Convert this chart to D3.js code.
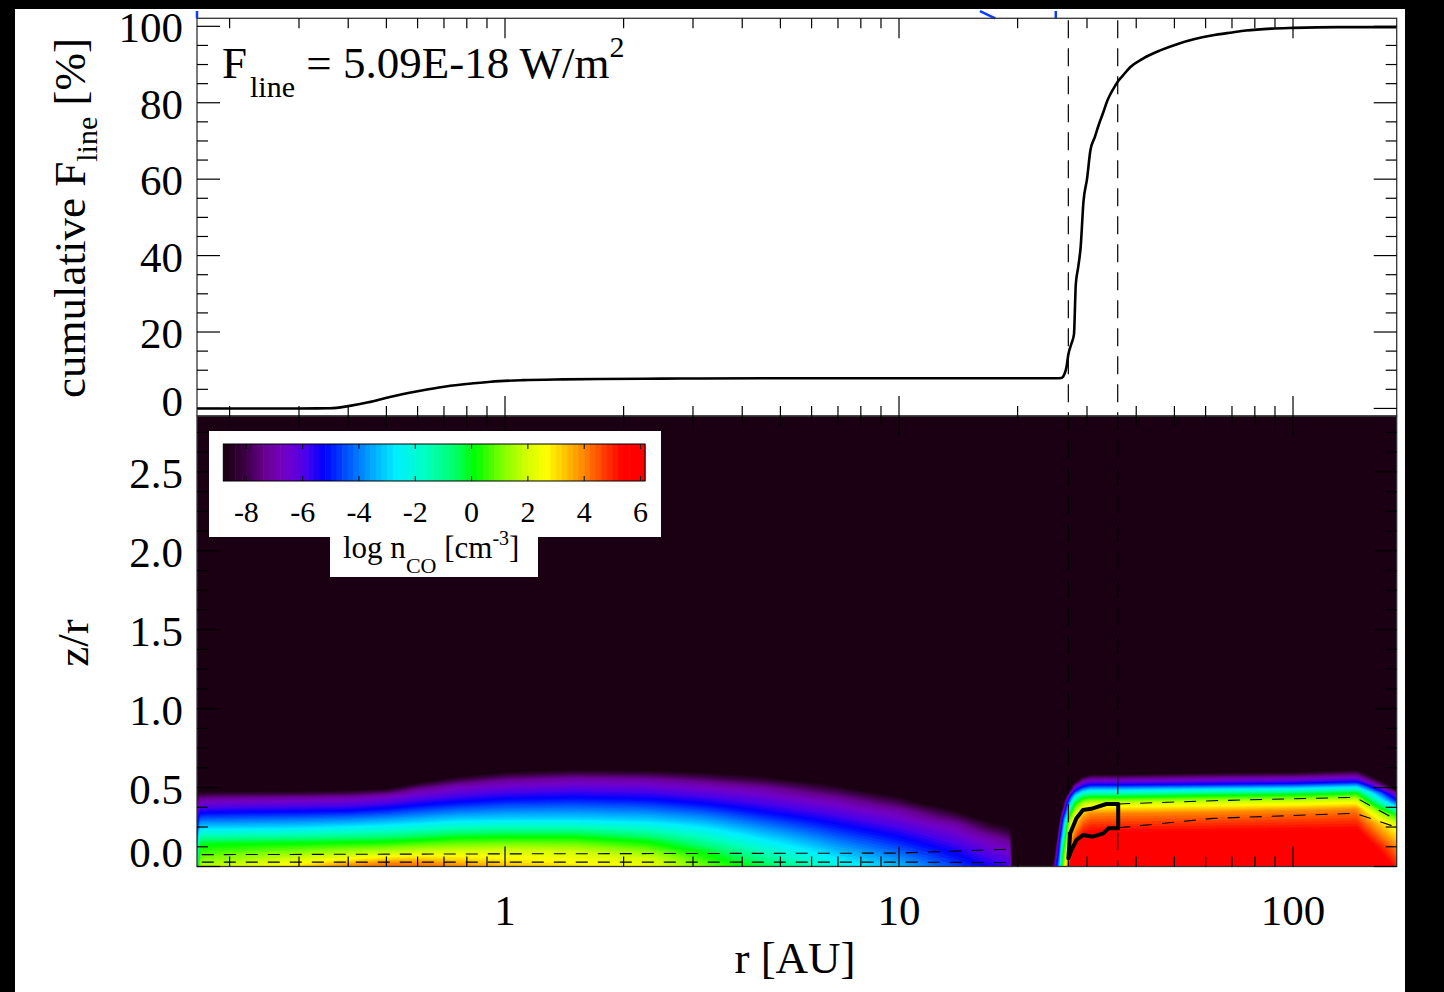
<!DOCTYPE html>
<html><head><meta charset="utf-8">
<script src="https://cdn.jsdelivr.net/npm/d3@7"></script>
<style>body{margin:0;background:#000;overflow:hidden}svg{display:block}text{font-family:"Liberation Serif","Times New Roman",serif;fill:#000}</style>
</head><body><svg id="chart" width="1444" height="992"></svg>
<script>
// ---------------- DATA ----------------
// top panel: cumulative line flux [%] vs r [AU]
const cumR   = [0.1653,0.2,0.25,0.3,0.36,0.40,0.45,0.51,0.6,0.68,0.8,0.92,1.11,1.4,1.74,2.5,3.1,5,10,20,25.0,25.8,26.3,26.6,26.9,27.4,27.8,28.1,28.5,28.9,29.4,30.0,30.6,31.4,32.2,33.0,33.8,34.5,35.2,36.0,37.0,38.6,41.5,46.0,51.0,56,62.1,70,76.0,88,100,130,183.3];
const cumPct = [0,0,0,0,0.05,0.6,1.6,3.0,4.5,5.5,6.4,7.0,7.4,7.6,7.7,7.8,7.85,7.9,7.9,7.9,7.9,7.95,9.0,10.7,14.1,17,19.4,32.5,37,42.1,54.3,60,67.5,71,74.5,77.5,80.6,82.5,84.1,85.7,87.1,89.3,91.5,93.7,95.4,96.6,97.6,98.4,98.9,99.4,99.6,99.8,99.8];
// blue trace just above the frame (null = break)
const blueR = [0.1653,0.1653,null,16.05,17.55,null,25.0,25.0];
const blueV = [102.1,104,null,104,102.1,null,102.1,104];
// radii of the dashed vertical lines
const dashedR = [26.9, 35.9];
// bottom panel: log n_CO field, described per radial node
const rNodes   = [0.1653,0.168,0.2,0.3,0.4,0.5,0.6,0.75,1.0,1.5,2.3,3.2,4.5,7,10,14,17,19.1,19.4,24.4,24.64,25.14,25.63,26.1,26.74,27.16,28,29.3,30.6,37,60,100,145,183.3];
const midplane = [-4.5,1.6,2.0,3.0,4.0,4.3,4.3,4.0,3.4,2.9,2.4,1.0,-0.3,-2.2,-3.3,-4.6,-5.4,-5.8,-9.5,-9.5,-8,-5.3,-3,1,3.5,5.5,7,8,8,8,8,8,8,5];
const levelValues = [4, 2, 0, -3, -5.3, -7, -9];
const zLev4  = [null,null,null,null,null,0.02,0.02,null,null,null,null,null,null,null,null,null,null,null,null,null,null,null,null,null,null,0.1,0.22,0.30,0.33,0.335,0.34,0.35,0.36,0.12];
const zLev2  = [null,null,null,0.05,0.07,0.08,0.09,0.095,0.1,0.09,0.05,null,null,null,null,null,null,null,null,null,null,null,null,null,0.15,0.27,0.34,0.39,0.40,0.40,0.405,0.41,0.42,0.27];
const zLev0  = [null,0.14,0.145,0.15,0.155,0.16,0.17,0.185,0.19,0.19,0.16,0.09,null,null,null,null,null,null,null,null,null,null,null,0.08,0.26,0.33,0.40,0.435,0.44,0.44,0.45,0.455,0.465,0.33];
const zLevM3 = [null,0.245,0.245,0.25,0.26,0.27,0.28,0.295,0.30,0.30,0.29,0.26,0.19,0.07,null,null,null,null,null,null,null,null,null,0.2,0.33,0.39,0.45,0.475,0.484,0.484,0.49,0.495,0.505,0.38];
const zLevM5 = [0.1,0.34,0.345,0.35,0.355,0.37,0.39,0.41,0.43,0.44,0.43,0.40,0.35,0.27,0.19,0.08,null,null,null,null,null,null,0.17,0.31,0.40,0.44,0.48,0.505,0.516,0.516,0.52,0.525,0.535,0.42];
const zLevM7 = [0.35,0.42,0.425,0.43,0.435,0.45,0.48,0.51,0.535,0.55,0.545,0.52,0.49,0.42,0.35,0.26,0.18,0.14,null,null,null,0.1,0.25,0.35,0.43,0.465,0.51,0.54,0.55,0.55,0.555,0.56,0.57,0.46];
const zLevM9 = [0.47,0.485,0.485,0.485,0.49,0.50,0.54,0.58,0.61,0.625,0.62,0.61,0.585,0.53,0.46,0.37,0.30,0.27,null,null,0.02,0.18,0.31,0.39,0.46,0.49,0.54,0.575,0.59,0.59,0.60,0.605,0.62,0.49];
// thick emission-region contour
const emitR = [26.9,27.2,28.2,29.3,31.0,33.6,36.0,36.0,34.0,33.0,31.0,29.3,28.2,27.4];
const emitZ = [0.052,0.21,0.305,0.358,0.368,0.396,0.396,0.242,0.242,0.21,0.189,0.199,0.168,0.104];
// dashed contours
const dashUpR = [36.0,62.8,144,183.3];   const dashUpZ = [0.396,0.417,0.438,0.294];
const dashLoR = [36.0,62.8,144,183.3];   const dashLoZ = [0.245,0.305,0.337,0.248];
const dashInAR = [0.17,1,10,19.1];       const dashInAZ = [0.075,0.08,0.085,0.11];
const dashInBR = [0.17,1,10,19.1];       const dashInBZ = [0.028,0.028,0.028,0.025];
// ticks
const topYTicks = [0,20,40,60,80,100];
const botYTicks = [0,0.5,1,1.5,2,2.5];
const botYLabels = ["0.0","0.5","1.0","1.5","2.0","2.5"];
const xLabelTicks = [1,10,100];
const cbTicks = [-8,-6,-4,-2,0,2,4,6];
// colour table
const cmapValues = [-8.82,-8.1,-7.4,-6.7,-6.0,-5.33,-4.56,-3.73,-2.78,-1.72,-0.77,0.03,1.0,1.83,2.55,3.25,3.96,4.56,5.27,6.16];
const cmapColors = ["#1a0012","#3e0048","#6a0094","#7400c8","#4a00ea","#0000ff","#0050ff","#00a0ff","#00f0ff","#00ffc0","#00ff70","#00ff00","#80ff00","#d0ff00","#ffff00","#ffc000","#ff8000","#ff4000","#ff0000","#ff0000"];

// ---------------- SCALES ----------------
const X0 = 197, X1 = 1396.7, YT0 = 18.3, YMID = 416, YB = 866.5;
const x = d3.scaleLog().domain([0.1653, 183.3]).range([X0, X1]);
const yTop = d3.scaleLinear().domain([-1.98, 102.1]).range([YMID, YT0]);
const yBot = d3.scaleLinear().domain([0, 2.854]).range([YB, YMID]);
const color = d3.scaleLinear().domain(cmapValues).range(cmapColors).clamp(true);
const cbX = d3.scaleLinear().domain([-8.82, 6.16]).range([223.3, 645]);

const svg = d3.select("#chart");
svg.append("rect").attr("x",15).attr("y",9).attr("width",1390).attr("height",983).attr("fill","#fff");
const defs = svg.append("defs");
defs.append("clipPath").attr("id","clipBot").append("rect").attr("x",X0).attr("y",YMID).attr("width",X1-X0).attr("height",YB-YMID);
defs.append("clipPath").attr("id","clipTop").append("rect").attr("x",X0).attr("y",YT0).attr("width",X1-X0).attr("height",YMID-YT0);

// ---------------- BOTTOM PANEL FIELD ----------------
const gB = svg.append("g").attr("clip-path","url(#clipBot)");
gB.append("rect").attr("x",X0).attr("y",YMID).attr("width",X1-X0).attr("height",YB-YMID).attr("fill",cmapColors[0]);
const levelArrays = [zLev4,zLev2,zLev0,zLevM3,zLevM5,zLevM7,zLevM9];
function profile(k, z) {
  const pts = [[0, midplane[k]]];
  levelValues.forEach((L, li) => { const h = levelArrays[li][k]; if (h != null && L < midplane[k]) pts.push([h, L]); });
  if (pts.length === 1) return midplane[k];
  const last = pts[pts.length-1];
  if (z >= last[0]) return last[1] - (z - last[0]) * 30;
  for (let i = 0; i < pts.length-1; i++) {
    if (z >= pts[i][0] && z <= pts[i+1][0]) {
      const t = (z - pts[i][0]) / (pts[i+1][0] - pts[i][0] || 1);
      return pts[i][1] + t * (pts[i+1][1] - pts[i][1]);
    }
  }
  return last[1];
}
const nx = 800, ny = 130, zMaxGrid = 0.8;
const field = new Float64Array(nx*ny);
const lr = rNodes.map(Math.log);
for (let i = 0; i < nx; i++) {
  const px = X0 + (i+0.5)*(X1-X0)/nx;
  const r = x.invert(px), l = Math.log(r);
  let k = d3.bisectRight(lr, l) - 1; k = Math.max(0, Math.min(rNodes.length-2, k));
  const t = Math.max(0, Math.min(1, (l - lr[k])/(lr[k+1]-lr[k])));
  for (let j = 0; j < ny; j++) {
    const z = zMaxGrid*(1 - (j+0.5)/ny);
    field[i + j*nx] = (1-t)*profile(k, z) + t*profile(k+1, z);
  }
}
const thresholds = d3.range(-8.8, 6.2, 0.2);
const contours = d3.contours().size([nx, ny]).thresholds(thresholds)(field);
const sx = (X1-X0)/nx, oy = yBot(zMaxGrid), sy = (yBot(0)-yBot(zMaxGrid))/ny;
const proj = d3.geoTransform({point(px, py){ this.stream.point(X0 + px*sx, oy + py*sy); }});
const gpath = d3.geoPath(proj);
gB.append("g").selectAll("path").data(contours).join("path")
  .attr("d", gpath).attr("fill", d => color(d.value)).attr("stroke", d => color(d.value)).attr("stroke-width",0.6);

// dashed contours in bottom panel
const lineRZ = d3.line().x(d => x(d[0])).y(d => yBot(d[1]));
[[dashUpR,dashUpZ],[dashLoR,dashLoZ],[dashInAR,dashInAZ],[dashInBR,dashInBZ]].forEach(([rr,zz]) => {
  gB.append("path").attr("d", lineRZ(rr.map((r,i)=>[r,zz[i]]))).attr("fill","none")
    .attr("stroke","#000").attr("stroke-width",1.1).attr("stroke-dasharray","12,10");
});
// thick emission contour
gB.append("path").attr("d", d3.line().x(d=>x(d[0])).y(d=>yBot(d[1])).curve(d3.curveLinearClosed)(emitR.map((r,i)=>[r,emitZ[i]])))
  .attr("fill","none").attr("stroke","#000").attr("stroke-width",4).attr("stroke-linejoin","round");

// ---------------- TOP PANEL ----------------
const gT = svg.append("g").attr("clip-path","url(#clipTop)");
gT.append("path").attr("d", d3.line().x(d=>x(d[0])).y(d=>yTop(d[1])).curve(d3.curveMonotoneX)(cumR.map((r,i)=>[r,cumPct[i]])))
  .attr("fill","none").attr("stroke","#000").attr("stroke-width",2.6).attr("stroke-linejoin","round");
svg.append("path").attr("d", d3.line().defined(d=>d[0]!=null).x(d=>x(d[0])).y(d=>yTop(d[1]))(blueR.map((r,i)=>[r,blueV[i]])))
  .attr("fill","none").attr("stroke","#0a3cff").attr("stroke-width",2.5);

// dashed vertical lines through both panels
svg.append("g").selectAll("line").data(dashedR).join("line")
  .attr("x1",d=>x(d)).attr("x2",d=>x(d)).attr("y1",YT0+2).attr("y2",YB)
  .attr("stroke","#000").attr("stroke-width",1.2).attr("stroke-dasharray","18,10");

// ---------------- AXES / FRAMES ----------------
const ax = svg.append("g");
[[YT0,YMID],[YMID,YB]].forEach(([a,b]) => {
  ax.append("rect").attr("x",X0).attr("y",a).attr("width",X1-X0).attr("height",b-a)
    .attr("fill","none").attr("stroke","#333").attr("stroke-width",1.3);
});
const xt = x.ticks();
const isMajorLog = d => Math.abs(Math.log10(d) - Math.round(Math.log10(d))) < 1e-6;
function xTicks(yA, dir) {
  ax.append("g").selectAll("line").data(xt).join("line")
    .attr("x1",d=>x(d)).attr("x2",d=>x(d)).attr("y1",yA).attr("y2",d=>yA + dir*(isMajorLog(d)?20:10))
    .attr("stroke","#000").attr("stroke-width",1.2);
}
xTicks(YT0, 1); xTicks(YMID, -1); xTicks(YMID, 1); xTicks(YB, -1);
function yTicks(scale, vals, isMaj) {
  [[X0,1],[X1,-1]].forEach(([xa,dir]) => {
    ax.append("g").selectAll("line").data(vals).join("line")
      .attr("x1",xa).attr("x2",d=>xa + dir*(isMaj(d)?23:11)).attr("y1",d=>scale(d)).attr("y2",d=>scale(d))
      .attr("stroke","#000").attr("stroke-width",1.2);
  });
}
yTicks(yTop, d3.range(0,101,5), d => d % 20 === 0);
yTicks(yBot, d3.range(0,2.86,0.125), d => Math.abs(d/0.5 - Math.round(d/0.5)) < 1e-6);

// tick labels
const fs = 43;
svg.append("g").selectAll("text").data(topYTicks).join("text")
  .attr("x",183).attr("y",d=>Math.min(yTop(d)+16, YMID)).attr("text-anchor","end").attr("font-size",fs).text(d=>d);
svg.append("g").selectAll("text").data(botYTicks).join("text")
  .attr("x",183).attr("y",d=>Math.min(yBot(d)+16, YB)).attr("text-anchor","end").attr("font-size",fs).text((d,i)=>botYLabels[i]);
svg.append("g").selectAll("text").data(xLabelTicks).join("text")
  .attr("x",d=>x(d)).attr("y",925).attr("text-anchor","middle").attr("font-size",fs).text(d=>d);

// axis titles
svg.append("text").attr("x",795).attr("y",973).attr("text-anchor","middle").attr("font-size",45).text("r [AU]");
svg.append("text").attr("transform","translate(88,643) rotate(-90)").attr("text-anchor","middle").attr("font-size",45).text("z/r");
const yl = svg.append("text").attr("transform","translate(85,218) rotate(-90)").attr("text-anchor","middle").attr("font-size",45);
yl.append("tspan").text("cumulative F");
yl.append("tspan").attr("font-size",30).attr("dy",12).text("line");
yl.append("tspan").attr("dy",-12).text(" [%]");

// annotation
const an = svg.append("text").attr("x",222).attr("y",78).attr("font-size",45);
an.append("tspan").text("F");
an.append("tspan").attr("font-size",30).attr("dy",19).attr("dx",3).text("line");
an.append("tspan").attr("dy",-19).text(" = 5.09E-18 W/m");
an.append("tspan").attr("font-size",30).attr("dy",-21).text("2");

// ---------------- COLOUR BAR ----------------
const cb = svg.append("g");
cb.append("rect").attr("x",209).attr("y",431).attr("width",452).attr("height",106).attr("fill","#fff");
cb.append("rect").attr("x",330).attr("y",536).attr("width",208).attr("height",41).attr("fill","#fff");
const cbBands = [-8.82].concat(thresholds.filter(t => t > -8.82));
cb.append("g").selectAll("rect").data(cbBands).join("rect")
  .attr("x",d=>cbX(d)).attr("y",444).attr("height",37)
  .attr("width",(d,i)=> (i < cbBands.length-1 ? cbX(cbBands[i+1]) : cbX(6.16)) - cbX(d) + 0.6)
  .attr("fill",d=>color(d));
cb.append("rect").attr("x",cbX(-8.82)).attr("y",444).attr("width",cbX(6.16)-cbX(-8.82)).attr("height",37)
  .attr("fill","none").attr("stroke","#000").attr("stroke-width",1);
cb.append("g").selectAll("line").data(cbTicks.flatMap(v=>[[v,444,449],[v,481,476]])).join("line")
  .attr("x1",d=>cbX(d[0])).attr("x2",d=>cbX(d[0])).attr("y1",d=>d[1]).attr("y2",d=>d[2]).attr("stroke","#000").attr("stroke-width",1);
cb.append("g").selectAll("text").data(cbTicks).join("text")
  .attr("x",d=>cbX(d)).attr("y",522).attr("text-anchor","middle").attr("font-size",30).text(d=>d);
const ct = cb.append("text").attr("x",343).attr("y",558).attr("font-size",31);
ct.append("tspan").text("log n");
ct.append("tspan").attr("font-size",22).attr("dy",15).text("CO");
ct.append("tspan").attr("dy",-15).text(" [cm");
ct.append("tspan").attr("font-size",20).attr("dy",-13).text("-3");
ct.append("tspan").attr("dy",13).text("]");
</script></body></html>
